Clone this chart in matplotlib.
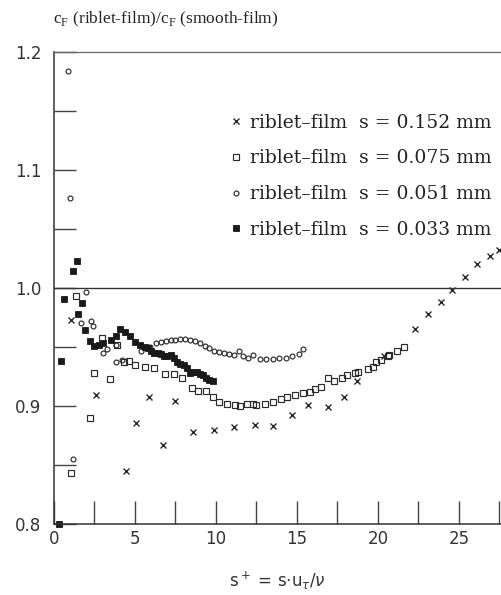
import matplotlib
matplotlib.use("Agg")
import matplotlib.pyplot as plt
from matplotlib.font_manager import FontProperties

# s = 0.152 mm (crosses)
x_152 = [1.05, 2.6, 4.44, 5.05, 5.87, 6.7, 7.5, 8.6, 9.9, 11.1, 12.4, 13.5, 14.7,
         15.7, 16.9, 17.9, 18.7, 20.4, 22.3, 23.1, 23.9, 24.6, 25.4, 26.1, 26.9, 27.5]
y_152 = [0.973, 0.909, 0.845, 0.886, 0.908, 0.867, 0.904, 0.878, 0.880, 0.882, 0.884,
         0.883, 0.892, 0.901, 0.899, 0.908, 0.921, 0.942, 0.965, 0.978, 0.988, 0.998,
         1.009, 1.020, 1.027, 1.032]

# s = 0.075 mm (open squares)
x_075 = [1.05, 1.36, 2.2, 2.5, 2.96, 3.46, 3.9, 4.3, 4.6, 5.0, 5.6, 6.2, 6.85, 7.4,
         7.9, 8.5, 8.9, 9.4, 9.8, 10.2, 10.7, 11.2, 11.5, 11.9, 12.3, 12.5, 13.0, 13.5,
         14.0, 14.4, 14.9, 15.4, 15.8, 16.1, 16.5, 16.9, 17.3, 17.8, 18.1, 18.6, 18.8,
         19.4, 19.7, 19.9, 20.2, 20.6, 20.7, 21.2, 21.6]
y_075 = [0.843, 0.993, 0.890, 0.928, 0.958, 0.923, 0.952, 0.937, 0.938, 0.935, 0.933,
         0.932, 0.927, 0.927, 0.924, 0.915, 0.913, 0.913, 0.908, 0.903, 0.902, 0.901,
         0.900, 0.902, 0.902, 0.901, 0.902, 0.903, 0.906, 0.908, 0.909, 0.911, 0.912,
         0.914, 0.916, 0.924, 0.921, 0.924, 0.926, 0.928, 0.929, 0.931, 0.933, 0.937,
         0.939, 0.942, 0.943, 0.947, 0.950]

# s = 0.051 mm (small open circles)
x_051 = [0.86, 1.0, 1.2, 1.67, 2.0, 2.3, 2.4, 3.0, 3.3, 3.8, 3.8, 4.2, 5.4, 5.9,
         6.3, 6.6, 6.9, 7.2, 7.5, 7.8, 8.1, 8.4, 8.7, 9.0, 9.3, 9.6, 9.9, 10.2, 10.5,
         10.8, 11.1, 11.4, 11.7, 12.0, 12.3, 12.7, 13.1, 13.5, 13.9, 14.3, 14.7, 15.1, 15.4]
y_051 = [1.184, 1.076, 0.855, 0.970, 0.997, 0.972, 0.968, 0.945, 0.948, 0.952, 0.937,
         0.939, 0.947, 0.950,
         0.953, 0.954, 0.955, 0.956, 0.956, 0.957, 0.957, 0.956, 0.955, 0.953, 0.951,
         0.949, 0.947, 0.946, 0.945, 0.944, 0.943, 0.947, 0.942, 0.941, 0.943, 0.940,
         0.940, 0.940, 0.941, 0.941, 0.942, 0.944, 0.948]

# s = 0.033 mm (filled squares)
x_033 = [0.3, 0.43, 0.6, 1.2, 1.4, 1.5, 1.7, 1.9, 2.2, 2.5, 2.8, 3.0, 3.5, 3.8, 4.1,
         4.4, 4.7, 5.0, 5.3, 5.6, 5.8, 6.0, 6.2, 6.4, 6.6, 6.8, 7.0, 7.2, 7.4, 7.6, 7.8,
         8.0, 8.2, 8.4, 8.6, 8.8, 9.0, 9.2, 9.4, 9.6, 9.8]
y_033 = [0.800, 0.938, 0.991, 1.014, 1.023, 0.978, 0.987, 0.964, 0.955, 0.951, 0.952,
         0.953, 0.956, 0.959, 0.965, 0.963, 0.959, 0.954, 0.952, 0.950, 0.949, 0.947,
         0.945, 0.945, 0.944, 0.942, 0.942, 0.943, 0.941, 0.937, 0.936, 0.935, 0.932,
         0.928, 0.929, 0.929, 0.927, 0.926, 0.924, 0.922, 0.921]

labels = ["riblet\u2013film  s = 0.152 mm",
          "riblet\u2013film  s = 0.075 mm",
          "riblet\u2013film  s = 0.051 mm",
          "riblet\u2013film  s = 0.033 mm"]

ink = "#2b2b2b"

fig = plt.figure(figsize=(5.01, 5.95), dpi=100)
ax = fig.add_axes([54 / 501, 1 - 524 / 595, 447 / 501, 472 / 595])

h1, = ax.plot(x_152, y_152, "x", ms=4.4, mew=1.0, color=ink, clip_on=False)
h2, = ax.plot(x_075, y_075, "s", ms=4.3, mew=0.85, mfc="none", mec=ink, clip_on=False)
h3, = ax.plot(x_051, y_051, "o", ms=3.5, mew=0.85, mfc="none", mec=ink, clip_on=False)
h4, = ax.plot(x_033, y_033, "s", ms=4.3, mew=0.6, color="#1a1a1a", clip_on=False)

ax.axhline(1.0, color="#333333", lw=1.0)

ax.set_xlim(0, 27.6)
ax.set_ylim(0.8, 1.2)
ax.set_xticks([0, 5, 10, 15, 20, 25])
ax.set_xticks([2.5, 7.5, 12.5, 17.5, 22.5, 27.5], minor=True)
ax.set_yticks([0.8, 0.9, 1.0, 1.1, 1.2])
ax.set_yticklabels(["0.8", "0.9", "1.0", "1.1", "1.2"])
ax.set_yticks([0.85, 0.95, 1.05, 1.15], minor=True)

ax.tick_params(axis="x", which="both", direction="in", length=16.5, width=1.0,
               color="#444444", pad=4, labelsize=12, labelcolor="#333333")
ax.tick_params(axis="y", which="both", direction="in", length=16, width=1.0,
               color="#444444", pad=9, labelsize=12, labelcolor="#333333")

for side in ("left", "bottom"):
    ax.spines[side].set_color("#333333")
    ax.spines[side].set_linewidth(1.1)
ax.spines["top"].set_color("#666666")
ax.spines["top"].set_linewidth(0.9)
ax.spines["right"].set_visible(False)

leg_font = FontProperties(family="DejaVu Serif", size=13.5)
ax.legend([h1, h2, h3, h4], labels, loc="upper left",
          bbox_to_anchor=(0.386, 0.869), frameon=False, prop=leg_font,
          handlelength=1.0, handletextpad=0.25, labelspacing=0.94,
          borderpad=0, borderaxespad=0, numpoints=1, labelcolor="#222222")

fig.text(53 / 501, 1 - 19 / 595,
         r"c$_\mathregular{F}$ (riblet-film)/c$_\mathregular{F}$ (smooth-film)",
         family="Liberation Serif", fontsize=12.5, va="center", ha="left", color="#222222")
fig.text(277 / 501, 1 - 581 / 595, r"s$^+$ = s$\cdot$u$_\tau$/$\nu$",
         fontsize=12, va="center", ha="center", color="#333333")

fig.savefig("out.png", dpi=100)
